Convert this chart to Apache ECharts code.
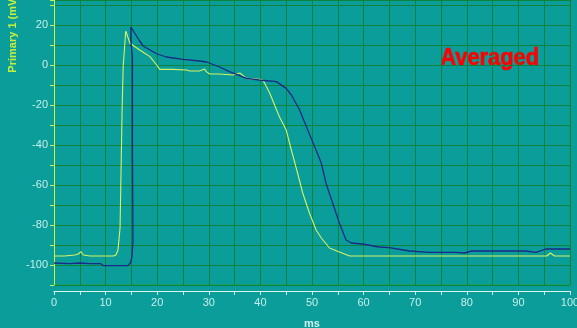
<!DOCTYPE html>
<html>
<head>
<meta charset="utf-8">
<script src="https://cdn.jsdelivr.net/npm/echarts@6/dist/echarts.min.js"></script>
<style>
html,body{margin:0;padding:0;background:#0a9d9a;}
#c{width:577px;height:328px;}
</style>
</head>
<body>
<div id="c"></div>
<script>
// Blue trace (ms, mV)
const blueX = [0, 3, 5, 7, 9, 9.5, 14.3, 14.8, 15.1, 15.3, 15.2, 15.2, 14.9, 14.9, 15.5, 16.6, 17.3, 18.6, 20, 21.8, 25, 28.2, 29.6, 32.1, 34, 37.3, 39.8, 43.1, 45, 46, 47.6, 48.9, 50.5, 51.8, 52.7, 54, 55.3, 56.6, 57.6, 59.8, 63, 65, 68.9, 72.7, 77.9, 79.5, 81, 91.4, 93.4, 95.3, 100];
const blueY = [-99, -99.3, -99, -99.3, -99.3, -100.3, -100.3, -99, -96, -88, -40, 4, 12, 19, 16.5, 12, 9.5, 7.5, 5.5, 4, 2.8, 2, 1.5, -1, -3.3, -6.7, -7.5, -8.3, -11.7, -15, -22.5, -30.8, -40.8, -49, -59, -69, -79, -87.5, -89, -89.5, -91, -91.3, -93, -93.7, -93.7, -94, -93, -93, -93.7, -92, -92];
// Yellow-green trace (ms, mV)
const greenX = [0, 2, 4, 4.7, 5.2, 5.7, 7, 9, 11.5, 12.0, 12.4, 12.8, 12.9, 13.2, 13.4, 13.9, 14.3, 14.7, 15.5, 16.6, 17.5, 18.6, 19.9, 20.5, 23, 25.7, 26.3, 28.2, 29.2, 29.5, 30.2, 32, 34.7, 36, 37.3, 39.8, 40.5, 41.8, 43.7, 45, 46, 47.2, 48.2, 49.5, 50.8, 51.8, 53.4, 55.3, 57.3, 60, 70, 80, 90, 95.5, 96.2, 97, 100];
const greenY = [-95.5, -95.5, -95, -94.5, -93.3, -95, -95.5, -95.5, -95.5, -95, -92.5, -81.5, -67, -22, -1, 17, 14, 11, 9.5, 7.5, 6, 4.2, 0, -2.2, -2.2, -2.5, -3, -3, -2, -3.3, -4.5, -4.5, -5, -4, -6.7, -7.2, -7.5, -14, -26, -32.5, -42.5, -54, -64, -74, -82.5, -86.5, -91.5, -93.5, -95.5, -95.5, -95.5, -95.5, -95.5, -95.5, -94, -95.5, -95.5];
// Axis settings
const xTicks = [0, 10, 20, 30, 40, 50, 60, 70, 80, 90, 100];
const yTicks = [-100, -80, -60, -40, -20, 0, 20];
const yName = 'Primary 1 (mV)';
const xName = 'ms';
const note = 'Averaged';

const zip = (xs, ys) => xs.map((x, i) => [x, ys[i]]);

const chart = echarts.init(document.getElementById('c'));
chart.setOption({
  backgroundColor: '#0a9d9a',
  animation: false,
  grid: {left: 54, right: 7, top: 0, bottom: 43, show: true, borderColor: '#16a040', borderWidth: 1,
    backgroundColor: 'transparent', containLabel: false, outerBoundsMode: 'none'},
  xAxis: {
    type: 'value', min: 0, max: 100, interval: 5,
    offset: 6,
    name: xName, nameLocation: 'middle', nameGap: 27,
    nameTextStyle: {color: '#d4f4f2', fontSize: 11, fontWeight: 'bold', fontFamily: 'Liberation Sans'},
    axisLine: {show: true, onZero: false, lineStyle: {color: '#d8f4f0', width: 1}},
    axisTick: {show: true, length: 4, lineStyle: {color: '#d8f4f0'}},
    axisLabel: {color: '#c8eeea', fontSize: 11, fontFamily: 'Liberation Sans', margin: 6,
      formatter: v => xTicks.includes(v) ? String(v) : ''},
    splitLine: {show: true, lineStyle: {color: '#11823c', width: 1}}
  },
  yAxis: {
    type: 'value', min: -110, max: 32.5, interval: 10,
    axisLine: {show: true, onZero: false, lineStyle: {color: '#c8ee5a', width: 1}},
    axisTick: {show: true, length: 4, lineStyle: {color: '#c8ee5a'}},
    axisLabel: {color: '#c8eeea', fontSize: 11, fontFamily: 'Liberation Sans', margin: 6,
      formatter: v => yTicks.includes(v) ? String(v) : ''},
    splitLine: {show: true, lineStyle: {color: '#11823c', width: 1}}
  },
  graphic: [
    {type: 'text', left: 7, top: -5, rotation: Math.PI / 2, originX: 0, originY: 0,
      style: {text: yName, fill: '#c8ee3a', font: 'bold 11px "Liberation Sans", Arial', x: 0, y: 0}},
    {type: 'text', left: 440, top: 46, scaleX: 0.91, originX: 0, originY: 0,
      style: {text: note, fill: '#ff0000', stroke: '#ff0000', lineWidth: 0.6,
        font: 'bold 24px "Liberation Sans", Arial'}}
  ],
  series: [
    {type: 'line', data: zip(greenX, greenY), showSymbol: false, symbol: 'none',
      lineStyle: {color: '#d6f264', width: 1.1}, z: 3},
    {type: 'line', data: zip(blueX, blueY), showSymbol: false, symbol: 'none',
      lineStyle: {color: '#1a2a86', width: 1.3}, z: 4}
  ]
});
</script>
</body>
</html>
